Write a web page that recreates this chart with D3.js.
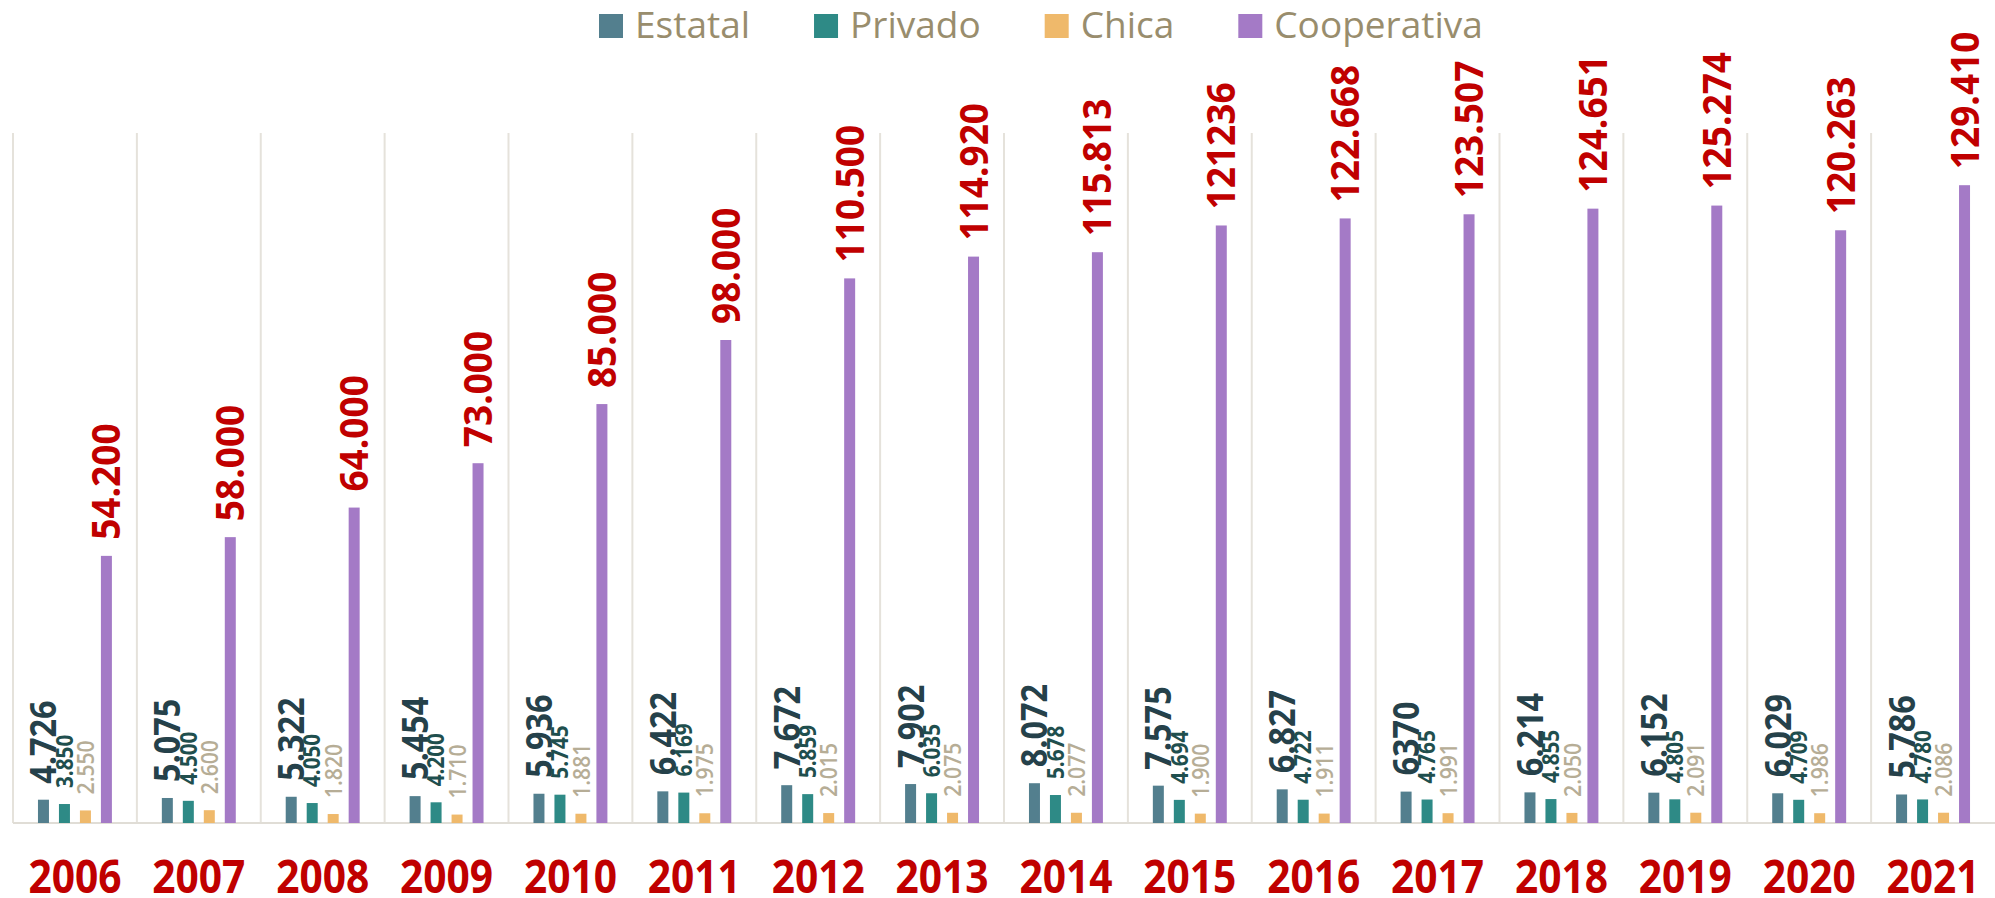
<!DOCTYPE html>
<html>
<head>
<meta charset="utf-8">
<script src="https://cdn.jsdelivr.net/npm/d3@7"></script>
<style>
body { margin: 0; background: #fff; }
svg { display: block; font-family: "Open Sans", sans-serif; }
</style>
</head>
<body>
<script>
var width = 1995;
var height = 898;

// data
var years = ["2006", "2007", "2008", "2009", "2010", "2011", "2012", "2013",
	"2014", "2015", "2016", "2017", "2018", "2019", "2020", "2021"];
var seriesNames = ["Estatal", "Privado", "Chica", "Cooperativa"];
var estatal = [4726, 5075, 5322, 5454, 5936, 6422, 7672, 7902, 8072, 7575, 6827, 6370, 6214, 6152, 6029, 5786];
var privado = [3850, 4500, 4050, 4200, 5745, 6169, 5859, 6035, 5678, 4694, 4722, 4765, 4855, 4805, 4709, 4780];
var chica = [2550, 2600, 1820, 1710, 1881, 1975, 2015, 2075, 2077, 1900, 1911, 1991, 2050, 2091, 1986, 2086];
var cooperativa = [54200, 58000, 64000, 73000, 85000, 98000, 110500, 114920, 115813, 121236, 122668, 123507, 124651, 125274, 120263, 129410];
var yTicks = [0, 140000];
// labels written without thousands dot in the original
var labelOverrides = { "Cooperativa-2015": "121236", "Estatal-2017": "6370" };

var seriesValues = [estatal, privado, chica, cooperativa];

var barColor = { Estatal: "#537f8e", Privado: "#2e8a86", Chica: "#efb96b", Cooperativa: "#a47ac6" };
var labelStyle = {
	Estatal: { color: "#25414a", size: 36, weight: 700, sx: 0.9 },
	Privado: { color: "#1f4f4e", size: 23, weight: 700, sx: 0.9 },
	Chica: { color: "#b6ad96", size: 24, weight: 600, sx: 0.88 },
	Cooperativa: { color: "#c00000", size: 39, weight: 700, sx: 0.95 }
};

var fmt = d3.formatLocale({ decimal: ",", thousands: ".", grouping: [3], currency: ["", ""] }).format(",d");

var svg = d3.select("body")
	.append("svg")
	.attr("width", width)
	.attr("height", height);

var x = d3.scaleBand()
	.domain(years)
	.range([13, 1995])
	.paddingInner(0)
	.paddingOuter(0);

var xs = d3.scaleBand()
	.domain(seriesNames)
	.range([0, x.bandwidth()])
	.paddingInner(0.476)
	.paddingOuter(1.19);

var y = d3.scaleLinear()
	.domain(d3.extent(yTicks))
	.range([823, 133]);

// vertical separators between the years
svg.append("g")
	.selectAll("line")
	.data(years)
	.enter()
	.append("line")
	.attr("x1", function(d) { return x(d); })
	.attr("x2", function(d) { return x(d); })
	.attr("y1", y(yTicks[1]))
	.attr("y2", y(0))
	.style("stroke", "#e5e2db")
	.style("stroke-width", 2);

svg.append("line")
	.attr("x1", x.range()[0])
	.attr("x2", x.range()[1])
	.attr("y1", y(0))
	.attr("y2", y(0))
	.style("stroke", "#e0ddd6")
	.style("stroke-width", 2);

var rows = [];
seriesNames.forEach(function(s, si) {
	years.forEach(function(yr, i) {
		rows.push({ series: s, year: yr, value: seriesValues[si][i] });
	});
});

svg.append("g")
	.selectAll("rect")
	.data(rows)
	.enter()
	.append("rect")
	.attr("x", function(d) { return x(d.year) + xs(d.series); })
	.attr("y", function(d) { return y(d.value); })
	.attr("width", xs.bandwidth())
	.attr("height", function(d) { return y(0) - y(d.value); })
	.style("fill", function(d) { return barColor[d.series]; });

svg.append("g")
	.selectAll("text")
	.data(rows)
	.enter()
	.append("text")
	.attr("transform", function(d) {
		var cx = x(d.year) + xs(d.series) + xs.bandwidth() / 2;
		var st = labelStyle[d.series];
		return "translate(" + cx + "," + (y(d.value) - 16) + ") rotate(-90) scale(" + st.sx + ",1)";
	})
	.attr("dy", "0.36em")
	.attr("text-anchor", "start")
	.style("font-size", function(d) { return labelStyle[d.series].size + "px"; })
	.style("font-weight", function(d) { return labelStyle[d.series].weight; })
	.style("fill", function(d) { return labelStyle[d.series].color; })
	.text(function(d) {
		var key = d.series + "-" + d.year;
		return labelOverrides[key] || fmt(d.value);
	});

// year labels
svg.append("g")
	.selectAll("text")
	.data(years)
	.enter()
	.append("text")
	.attr("transform", function(d) {
		return "translate(" + (x(d) + x.bandwidth() / 2) + ",893) scale(0.885,1)";
	})
	.attr("text-anchor", "middle")
	.style("font-size", "46px")
	.style("font-weight", 700)
	.style("fill", "#c00000")
	.text(function(d) { return d; });

// legend
var legend = svg.append("g");
var lx = 599;
seriesNames.forEach(function(s) {
	legend.append("rect")
		.attr("x", lx)
		.attr("y", 14)
		.attr("width", 24)
		.attr("height", 24)
		.style("fill", barColor[s]);
	var t = legend.append("text")
		.attr("x", lx + 36)
		.attr("y", 38)
		.style("font-size", "37px")
		.style("fill", "#998d6d")
		.text(s);
	lx = lx + 36 + t.node().getComputedTextLength() + 64;
});
</script>
</body>
</html>
